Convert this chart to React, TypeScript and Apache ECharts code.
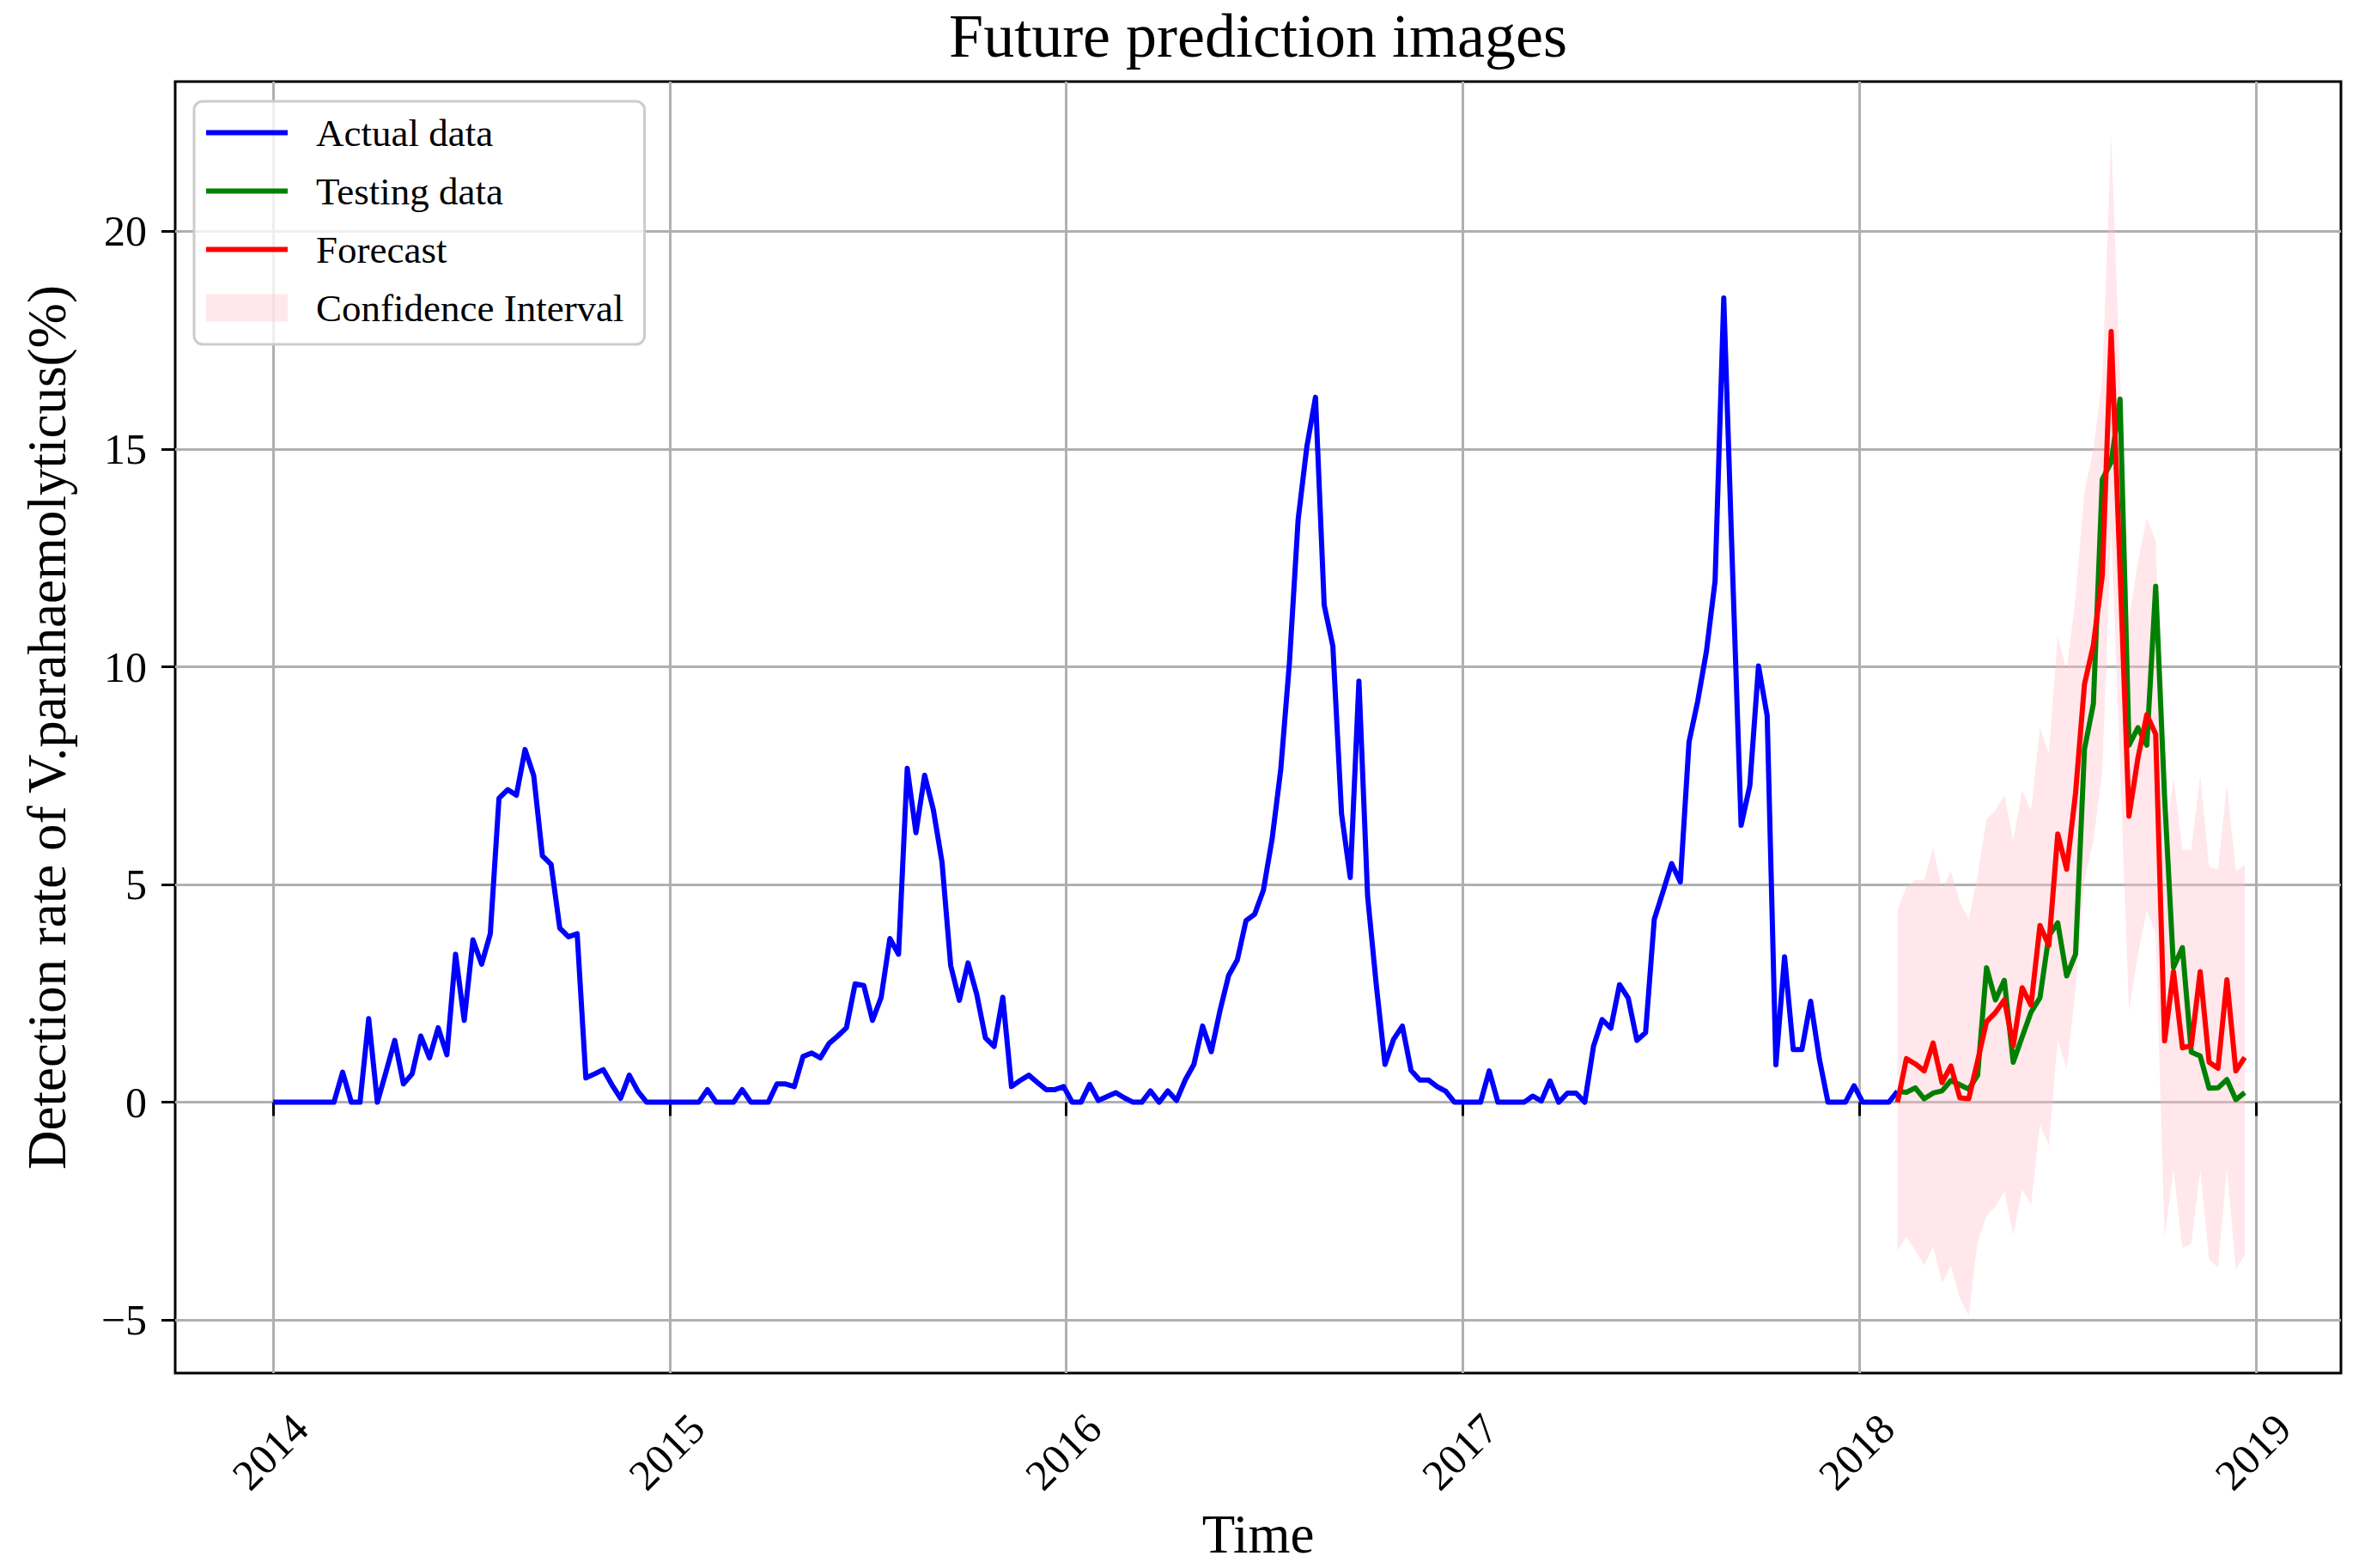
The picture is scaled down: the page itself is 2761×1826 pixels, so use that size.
import React, { useEffect, useRef } from 'react';
import * as echarts from 'echarts';

// ---- Data (8-day series starting 2014-01-01; test period sampled every ~8.2 days) ----
const START_YEAR = 2014;
const STEP_DAYS = 8;
const TEST_START_INDEX = 187;
const TEST_STEP_DAYS = 8.2;

const actualValues = [
  0, 0, 0, 0, 0, 0, 0, 0, 0.69, 0,
  0, 1.92, 0, 0.7, 1.42, 0.42, 0.65, 1.52, 1.02, 1.71,
  1.09, 3.4, 1.88, 3.73, 3.17, 3.87, 6.98, 7.18, 7.05, 8.1,
  7.5, 5.66, 5.46, 4.0, 3.8, 3.87, 0.56, 0.65, 0.75, 0.4,
  0.09, 0.62, 0.25, 0, 0, 0, 0, 0, 0, 0,
  0.29, 0, 0, 0, 0.29, 0, 0, 0, 0.42, 0.42,
  0.36, 1.05, 1.13, 1.02, 1.35, 1.52, 1.71, 2.72, 2.68, 1.88,
  2.41, 3.76, 3.4, 7.67, 6.19, 7.51, 6.72, 5.52, 3.14, 2.34,
  3.2, 2.48, 1.48, 1.28, 2.41, 0.36, 0.5, 0.62, 0.45, 0.29,
  0.29, 0.36, 0, 0, 0.41, 0.04, 0.13, 0.22, 0.1, 0,
  0, 0.26, 0, 0.26, 0.04, 0.51, 0.87, 1.75, 1.16, 2.1,
  2.91, 3.27, 4.17, 4.32, 4.87, 6.04, 7.64, 10.1, 13.38, 15.05,
  16.19, 11.42, 10.47, 6.62, 5.16, 9.67, 4.73, 2.69, 0.87, 1.45,
  1.75, 0.73, 0.51, 0.51, 0.36, 0.25, 0, 0, 0, 0,
  0.72, 0, 0, 0, 0, 0.14, 0.03, 0.49, 0, 0.21,
  0.21, 0, 1.28, 1.9, 1.7, 2.7, 2.39, 1.42, 1.6, 4.2,
  4.83, 5.48, 5.06, 8.27, 9.21, 10.35, 11.97, 18.47, 12.28, 6.36,
  7.27, 10.02, 8.87, 0.86, 3.34, 1.21, 1.21, 2.32, 1.0, 0,
  0, 0, 0.38, 0, 0, 0, 0, 0.25,
];

const testingValues = [
  0.25, 0.23, 0.33, 0.08, 0.21, 0.26, 0.5, 0.4, 0.3, 0.62,
  3.09, 2.35, 2.8, 0.92, 1.5, 2.07, 2.4, 3.82, 4.12, 2.9,
  3.4, 8.11, 9.15, 14.3, 14.7, 16.15, 8.2, 8.6, 8.2, 11.85,
  7.0, 3.1, 3.55, 1.15, 1.06, 0.32, 0.33, 0.52, 0.06, 0.22,
];

const forecastValues = [
  0, 1.0, 0.88, 0.72, 1.36, 0.45, 0.83, 0.1, 0.08, 0.95,
  1.85, 2.06, 2.35, 1.3, 2.63, 2.23, 4.06, 3.6, 6.16, 5.35,
  7.1, 9.6, 10.5, 12.1, 17.7, 12.2, 6.57, 7.9, 8.9, 8.45,
  1.41, 3.0, 1.25, 1.3, 3.0, 0.92, 0.78, 2.81, 0.72, 1.03,
];

const ciUpper = [
  4.4, 4.95, 5.1, 5.1, 5.85, 4.9, 5.3, 4.6, 4.2, 5.2,
  6.5, 6.7, 7.05, 6.0, 7.15, 6.7, 8.6, 8.0, 10.7, 9.9,
  11.6, 14.0, 15.0, 16.6, 22.2, 16.7, 11.1, 12.4, 13.4, 12.9,
  5.9, 7.45, 5.8, 5.8, 7.5, 5.4, 5.35, 7.3, 5.3, 5.45,
];

const ciLower = [
  -3.4, -3.1, -3.4, -3.75, -3.3, -4.15, -3.75, -4.5, -4.9, -3.2,
  -2.6, -2.4, -2.05, -3.05, -2.0, -2.35, -0.5, -1.0, 1.45, 0.75,
  2.6, 5.1, 6.0, 7.6, 13.2, 7.7, 2.1, 3.4, 4.4, 3.9,
  -3.1, -1.55, -3.35, -3.25, -1.55, -3.6, -3.8, -1.5, -3.85, -3.5,
];

const xTickYears = [2014, 2015, 2016, 2017, 2018, 2019];
const yTickValues = [-5, 0, 5, 10, 15, 20];

// ---- helpers ----
const FONT = '"Liberation Serif", "Times New Roman", "DejaVu Serif", serif';
const yearOf = (i: number) => START_YEAR + (i * STEP_DAYS) / 365.25;
const testYearOf = (k: number) => yearOf(TEST_START_INDEX) + (k * TEST_STEP_DAYS) / 365.25;

const actualData = actualValues.map((v, i) => [yearOf(i), v]);
const testingData = testingValues.map((v, k) => [testYearOf(k), v]);
const forecastData = forecastValues.map((v, k) => [testYearOf(k), v]);
const bandYears = ciUpper.map((_, k) => testYearOf(k));

const fmtNum = (v: number) => (v < 0 ? '\u2212' + Math.abs(v) : String(v));
const LINE_ICON = 'path://M0,0 L95,0 L95,6 L0,6 Z';
const BAND_COLOR = 'rgba(255,192,203,0.38)';

export default function App() {
  const ref = useRef<HTMLDivElement>(null);

  useEffect(() => {
    if (!ref.current) return;
    const chart = echarts.init(ref.current, null, { renderer: 'svg' });
    const option: any = {
      animation: false,
      backgroundColor: '#ffffff',
      title: {
        text: 'Future prediction images',
        left: 1465,
        top: 6,
        padding: 0,
        textAlign: 'center',
        textStyle: { fontFamily: FONT, fontSize: 72, fontWeight: 'normal', color: '#000' },
      },
      legend: {
        orient: 'vertical',
        left: 226,
        top: 118,
        selectedMode: false,
        symbolKeepAspect: true,
        data: [
          { name: 'Actual data', icon: LINE_ICON, itemStyle: { color: '#0000ff' } },
          { name: 'Testing data', icon: LINE_ICON, itemStyle: { color: '#008000' } },
          { name: 'Forecast', icon: LINE_ICON, itemStyle: { color: '#ff0000' } },
          { name: 'Confidence Interval', icon: 'rect', itemStyle: { color: BAND_COLOR } },
        ],
        itemWidth: 95,
        itemHeight: 32,
        itemGap: 23,
        padding: [14, 24, 20, 14],
        backgroundColor: 'rgba(255,255,255,0.8)',
        borderColor: '#cccccc',
        borderWidth: 3,
        borderRadius: 10,
        textStyle: { fontFamily: FONT, fontSize: 45, color: '#000', padding: [0, 0, 0, 28] },
      },
      grid: {
        left: 204,
        right: 35,
        top: 95,
        bottom: 227,
        show: true,
        borderColor: '#000',
        borderWidth: 3,
        backgroundColor: 'transparent',
      },
      xAxis: {
        type: 'value',
        min: 2013.753,
        max: 2019.214,
        axisLine: { show: false },
        axisTick: {
          show: true,
          length: 16,
          lineStyle: { color: '#000', width: 3 },
          customValues: xTickYears,
        },
        axisLabel: {
          customValues: xTickYears,
          formatter: (v: number) => String(Math.round(v)),
          rotate: 45,
          align: 'center',
          verticalAlign: 'middle',
          margin: 88,
          padding: [0, 10, 0, 0],
          fontFamily: FONT,
          fontSize: 50,
          color: '#000',
        },
        splitLine: { show: true, lineStyle: { color: '#b0b0b0', width: 3 } },
        name: 'Time',
        nameLocation: 'middle',
        nameGap: 156,
        nameTextStyle: { fontFamily: FONT, fontSize: 63, color: '#000' },
      },
      yAxis: {
        type: 'value',
        min: -6.22,
        max: 23.44,
        axisLine: { show: false },
        axisTick: {
          show: true,
          length: 16,
          lineStyle: { color: '#000', width: 3 },
          customValues: yTickValues,
        },
        axisLabel: {
          customValues: yTickValues,
          formatter: (v: number) => fmtNum(v),
          margin: 33,
          fontFamily: FONT,
          fontSize: 50,
          color: '#000',
        },
        splitLine: { show: true, lineStyle: { color: '#b0b0b0', width: 3 } },
        name: 'Detection rate of V.parahaemolyticus(%)',
        nameLocation: 'middle',
        nameRotate: 90,
        nameGap: 118,
        nameTextStyle: { fontFamily: FONT, fontSize: 63, color: '#000' },
      },
      series: [
        {
          name: 'Confidence Interval',
          type: 'custom',
          data: [[bandYears[0], ciLower[0]]],
          encode: { x: 0, y: 1 },
          itemStyle: { color: BAND_COLOR },
          silent: true,
          clip: true,
          z: 1,
          renderItem: (_params: any, api: any) => {
            const pts: number[][] = [];
            for (let k = 0; k < bandYears.length; k++) pts.push(api.coord([bandYears[k], ciUpper[k]]));
            for (let k = bandYears.length - 1; k >= 0; k--) pts.push(api.coord([bandYears[k], ciLower[k]]));
            return {
              type: 'polygon',
              shape: { points: pts },
              style: { fill: BAND_COLOR, stroke: 'none' },
            };
          },
        },
        {
          name: 'Actual data',
          type: 'line',
          data: actualData,
          symbol: 'none',
          lineStyle: { color: '#0000ff', width: 6, join: 'round' },
          itemStyle: { color: '#0000ff' },
          z: 3,
        },
        {
          name: 'Testing data',
          type: 'line',
          data: testingData,
          symbol: 'none',
          lineStyle: { color: '#008000', width: 6, join: 'round' },
          itemStyle: { color: '#008000' },
          z: 4,
        },
        {
          name: 'Forecast',
          type: 'line',
          data: forecastData,
          symbol: 'none',
          lineStyle: { color: '#ff0000', width: 6, join: 'round' },
          itemStyle: { color: '#ff0000' },
          z: 5,
        },
      ],
    };
    chart.setOption(option);
    return () => chart.dispose();
  }, []);

  return (
    <div
      ref={ref}
      style={{ position: 'absolute', left: 0, top: 0, width: 2761, height: 1826, background: '#fff' }}
    />
  );
}
